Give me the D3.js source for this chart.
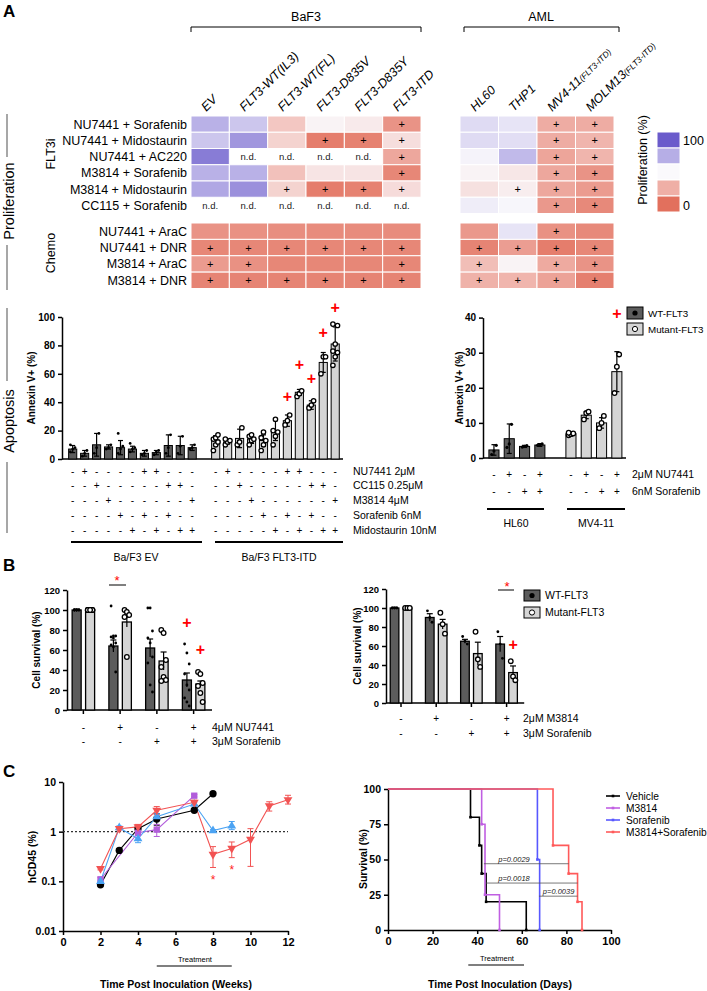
<!DOCTYPE html>
<html><head><meta charset="utf-8">
<script src="https://cdn.jsdelivr.net/npm/d3@7"></script>
<style>body{margin:0;background:#fff}svg{display:block}text{font-family:"Liberation Sans",Arial,Helvetica,sans-serif}</style>
</head><body><svg id="c" width="707" height="991"></svg>
<script>
// ---------------- DATA ----------------
const baf3Cols = ["EV","FLT3-WT(IL3)","FLT3-WT(FL)","FLT3-D835V","FLT3-D835Y","FLT3-ITD"];
const amlCols = ["HL60","THP1","MV4-11","MOLM13"];
const amlSub = ["","","(FLT3-ITD)","(FLT3-ITD)"];
const flt3iRows = ["NU7441 + Sorafenib","NU7441 + Midostaurin","NU7441 + AC220","M3814 + Sorafenib","M3814 + Midostaurin","CC115 + Sorafenib"];
const chemoRows = ["NU7441 + AraC","NU7441 + DNR","M3814 + AraC","M3814 + DNR"];
// proliferation (%) ; null = n.d.
const baf3Flt3iVals = [[74,67,33,48,45,14],[67,82,37,5,7,41],[90,null,null,null,null,22],[74,74,31,43,43,9],[77,84,37,5,7,40],[null,null,null,null,null,null]];
const baf3Flt3iPlus = [[0,0,0,0,0,1],[0,0,0,1,1,1],[0,0,0,0,0,1],[0,0,0,0,0,1],[0,0,1,1,1,1],[0,0,0,0,0,0]];
const amlFlt3iVals = [[60,57,24,24],[60,59,24,27],[52,71,21,27],[48,44,22,14],[42,46,22,17],[54,51,16,10]];
const amlFlt3iPlus = [[0,0,1,1],[0,0,1,1],[0,0,1,1],[0,0,1,1],[0,1,1,1],[0,0,1,1]];
const baf3ChemoVals = [[14,13,12,11,11,11],[9,9,9,9,9,9],[17,13,9,9,9,9],[8,8,8,8,8,8]];
const baf3ChemoPlus = [[0,0,0,0,0,0],[1,1,1,1,1,1],[1,1,0,0,0,1],[1,1,1,1,1,1]];
const amlChemoVals = [[16,57,13,10],[8,18,5,9],[30,48,23,14],[26,27,20,6]];
const amlChemoPlus = [[0,0,1,0],[1,1,1,1],[1,0,1,1],[1,1,1,1]];
const legendVals = [100,75,50,25,0];

// Apoptosis (Ba/F3)
const apoConds = ["NU7441 2\u03bcM","CC115 0.25\u03bcM","M3814 4\u03bcM","Sorafenib 6nM","Midostaurin 10nM"];
const apoCondMatrix = [[0,1,0,0,0,0,1,1,0,0,0],[0,0,1,0,0,0,0,0,1,1,0],[0,0,0,1,0,0,0,0,0,0,1],[0,0,0,0,1,0,1,0,1,0,0],[0,0,0,0,0,1,0,1,0,1,1]];
const apoEVMeans = [7,4,10,8.5,8,7,4,4.5,9.5,9.5,8];
const apoEVSd = [2.5,2,8,1.5,5,2,2,1.5,7.5,6.5,2];
const apoEVPts = [[5,7,8,10],[2,4,6],[4,8,18],[7,8,10],[4,7,9,18],[5,7,8,11],[3,4,6],[3,5,6],[4,8,17],[4,9,16],[7,8,10]];
const apoITDMeans = [13,12,14.5,14,13,20,27,47,38,68,81];
const apoITDSd = [3.5,1.5,6.5,3,4,7,4,2,3,7,12];
const apoITDPts = [[6,10,12,14,15,17],[10,12,13,14],[10,12,22],[10,13,14,16,17],[6,10,13,15,19],[10,16,19,20,28],[24,27,31],[44,46,48],[36,38,41],[60,72,72],[66,72,75,76,81,94,95]];
const apoITDSig = [null,null,null,null,null,null,44,66,56,89,106];

// Apoptosis (AML)
const amlApoConds = ["2\u03bcM NU7441","6nM Sorafenib"];
const amlApoCondMatrix = [[0,1,0,1],[0,0,1,1]];
const hl60Means = [2.3,5.5,3.3,3.7];
const hl60Sd = [1.5,4.2,0.3,0.4];
const hl60Pts = [[1,2,3.6],[3,4,9.6],[3.1,3.3,3.5],[3.6,3.8,4]];
const mv4Means = [6.9,12.2,10,24.6];
const mv4Sd = [0.4,1,1.5,5.7];
const mv4Pts = [[6.5,6.8,7,7.2],[11,12.8,13.2],[8.5,10,12],[18.5,26,29.5]];
const mv4Sig = [null,null,null,41];

// Panel B
const bLeftConds = ["4\u03bcM NU7441","3\u03bcM Sorafenib"];
const bRightConds = ["2\u03bcM M3814","3\u03bcM Sorafenib"];
const bCondMatrix = [[0,1,0,1],[0,0,1,1]];
const bLWTMeans = [100,64,62,30], bLWTSem = [0.8,6,9,7];
const bLMutMeans = [100,88,49,26], bLMutSem = [0.8,5,9,3];
const bLWTPts = [[100,100,100,100,100,100,100,100],[104,74,74,73,72,67,65,63,38],[102,102,79,72,67,53,47,25,18],[66,57,46,36,25,20,12,8,4]];
const bLMutPts = [[100,100,100,100,100,100,100,100],[100,98,95,93,53],[80,77,50,43,33,30,29],[38,36,27,24,17,8]];
const bLMutSig = [null,null,null,60], bLWTSig = [null,null,null,87];
const bRWTMeans = [100,90,65,62], bRWTSem = [0.8,4,2,8];
const bRMutMeans = [100,83,52,32], bRMutSem = [0.8,5,12,7];
const bRWTPts = [[100,100,100],[97,90,85],[70,65,62],[75,62,47]];
const bRMutPts = [[100,100,100],[95,83,73],[75,46,38],[44,28,24]];
const bRMutSig = [null,null,null,61];

// Panel C left (hCD45 %)
const vehWeeks=[2,3,4,5,7,8], vehVals=[0.085,0.42,1.15,1.8,2.7,5.8], vehLo=[0.08,0.4,1.05,1.35,2.55,5.6], vehHi=[0.09,0.45,1.3,2.3,2.9,6.0];
const m38Weeks=[2,4,5,7], m38Vals=[0.11,0.95,1.1,5.3], m38Lo=[0.1,0.85,0.8,5.0], m38Hi=[0.12,1.05,1.4,5.6];
const sorWeeks=[2,3,4,5,7,8,9], sorVals=[0.1,1.2,0.72,2.0,3.6,1.05,1.3], sorLo=[0.095,1.1,0.6,1.7,3.3,1.0,1.1], sorHi=[0.105,1.3,0.85,2.3,3.9,1.1,1.6];
const comWeeks=[2,3,4,5,7,8,9,10,11,12], comVals=[0.18,1.15,1.25,2.7,3.9,0.35,0.46,0.7,3.3,4.4], comLo=[0.17,1.08,1.1,2.2,3.5,0.19,0.3,0.2,2.6,3.6], comHi=[0.19,1.25,1.4,3.2,4.3,0.5,0.62,1.15,4.0,5.4];
const cLeftStarWeeks=[8,9], cLeftStarVals=[0.112,0.18];
const treatmentWeeks=[5,9];

// Panel C right (survival)
const survNames=["Vehicle","M3814","Sorafenib","M3814+Sorafenib"];
const vehSurv=[[0,100],[37,80],[41,60],[42,40],[44,20],[62,0]];
const m38Surv=[[0,100],[42,75],[43.5,25],[50,0]];
const sorSurv=[[0,100],[67,50],[68,0]];
const comSurv=[[0,100],[74,60],[81,40],[85,20],[87,0]];
const pLabels=["p=0.0029","p=0.0018","p=0.0039"];
const pFrom=[43,44,67.7], pTo=[81,85,85], pLevel=[47,33.3,24], pTextDay=[56.5,56.5,76.5];
const treatmentDays=[36,61];

// ---------------- DRAW ----------------
const F = '"Liberation Sans", Arial, Helvetica, sans-serif';
const svg = d3.select("#c");
function txt(g,x,y,s,o={}){const t=g.append("text").attr("x",x).attr("y",y).text(s).attr("font-size",o.size||10).attr("text-anchor",o.anchor||"start").attr("font-weight",o.weight||"normal").attr("fill",o.fill||"#000").attr("font-family",F);if(o.style)t.attr("font-style",o.style);if(o.rotate!=null)t.attr("transform",`rotate(${o.rotate},${x},${y})`);return t;}
function line(g,x1,y1,x2,y2,c="#000",w=1.4,dash){const l=g.append("line").attr("x1",x1).attr("y1",y1).attr("x2",x2).attr("y2",y2).attr("stroke",c).attr("stroke-width",w);if(dash)l.attr("stroke-dasharray",dash);return l;}
function styleAxis(g,size=10){g.selectAll("path,line").attr("stroke","#000").attr("stroke-width",1.5);g.selectAll("text").attr("font-size",size).attr("font-weight","bold").attr("font-family",F).attr("fill","#000");}

// panel letters
txt(svg,3,17,"A",{size:17,weight:"bold"});
txt(svg,3,571,"B",{size:17,weight:"bold"});
txt(svg,3,777,"C",{size:17,weight:"bold"});

// side labels
const gray="#8a8a8a";
line(svg,7,114,7,157,gray,1.5); line(svg,7,245,7,290,gray,1.5);
txt(svg,14,201,"Proliferation",{size:14.5,anchor:"middle",rotate:-90});
line(svg,7,308,7,381,gray,1.5); line(svg,7,462,7,533,gray,1.5);
txt(svg,14,421,"Apoptosis",{size:14.5,anchor:"middle",rotate:-90});

// ---- Heatmap ----
const color = d3.scaleLinear().domain([0,25,50,75,100]).range(["#e2705d","#efafa6","#faf9fc","#b6aee6","#6a5bcb"]);
const xB = d3.scaleBand().domain(baf3Cols).range([191,421]);
const xA = d3.scaleBand().domain(amlCols).range([460,614]);
const yF = d3.scaleBand().domain(flt3iRows).range([116,213.5]);
const yC = d3.scaleBand().domain(chemoRows).range([223,288.5]);
const hm = svg.append("g");
function drawBlock(xs, cols, ys, rows, vals, plus){
  rows.forEach((r,i)=>cols.forEach((c,j)=>{
    const v=vals[i][j], x=xs(c), y=ys(r);
    if(v===null){txt(hm,x+xs.bandwidth()/2,y+ys.bandwidth()/2+3.5,"n.d.",{size:9.5,anchor:"middle",fill:"#222"});return;}
    hm.append("rect").attr("x",x).attr("y",y).attr("width",xs.bandwidth()).attr("height",ys.bandwidth()).attr("fill",color(v)).attr("stroke","#fff").attr("stroke-width",1);
    if(plus[i][j]) txt(hm,x+xs.bandwidth()/2,y+ys.bandwidth()/2+4,"+",{size:11,anchor:"middle"});
  }));
}
drawBlock(xB,baf3Cols,yF,flt3iRows,baf3Flt3iVals,baf3Flt3iPlus);
drawBlock(xA,amlCols,yF,flt3iRows,amlFlt3iVals,amlFlt3iPlus);
drawBlock(xB,baf3Cols,yC,chemoRows,baf3ChemoVals,baf3ChemoPlus);
drawBlock(xA,amlCols,yC,chemoRows,amlChemoVals,amlChemoPlus);
flt3iRows.forEach(r=>txt(hm,187,yF(r)+yF.bandwidth()/2+4.5,r,{size:12.5,anchor:"end"}));
chemoRows.forEach(r=>txt(hm,187,yC(r)+yC.bandwidth()/2+4.5,r,{size:12.5,anchor:"end"}));
txt(hm,55,154,"FLT3i",{size:12.5,anchor:"middle",rotate:-90});
txt(hm,55,253,"Chemo",{size:12.5,anchor:"middle",rotate:-90});
// column headers
baf3Cols.forEach(c=>txt(hm,xB(c)+xB.bandwidth()/2-4,112,c,{size:12.5,style:"italic",rotate:-45}));
amlCols.forEach((c,i)=>{const t=txt(hm,xA(c)+xA.bandwidth()/2-4,112,c,{size:12.5,style:"italic",rotate:-45});if(amlSub[i])t.append("tspan").attr("font-size",8.5).text(amlSub[i]);});
// brackets
txt(hm,306,21,"BaF3",{size:12.5,anchor:"middle"});
hm.append("path").attr("d","M191,32V27H421V32").attr("fill","none").attr("stroke","#000").attr("stroke-width",1);
txt(hm,541,21,"AML",{size:12.5,anchor:"middle"});
hm.append("path").attr("d","M464,32V27H619V32").attr("fill","none").attr("stroke","#000").attr("stroke-width",1);
// legend
const yL = d3.scaleBand().domain(legendVals).range([132,212]);
legendVals.forEach(v=>hm.append("rect").attr("x",657).attr("y",yL(v)).attr("width",23).attr("height",yL.bandwidth()).attr("fill",color(v)).attr("stroke","#fff"));
txt(hm,683,145,"100",{size:12.5});
txt(hm,683,210,"0",{size:12.5});
txt(hm,647,160,"Proliferation (%)",{size:12.5,anchor:"middle",rotate:-90});

// ---- generic helpers for bar charts ----
function errBar(g,x,y0,y1,cap,c="#000"){line(g,x,y0,x,y1,c,1.2);line(g,x-cap,y1,x+cap,y1,c,1.2);}
function dots(g,x,ys,yScale,open,r){ys.forEach((v,k)=>{const dx=((k%3)-1)*2.3;const c=g.append("circle").attr("cx",x+dx).attr("cy",yScale(v)).attr("r",r);if(open)c.attr("fill","#fff").attr("stroke","#000").attr("stroke-width",1.3);else c.attr("fill","#000");});}
function sigPlus(g,x,y){txt(g,x,y+5,"+",{size:16,weight:"bold",anchor:"middle",fill:"#ff0000"});}
const dark="#5c5c5c", light="#d5d5d5";

// ---- Apoptosis left ----
const ga = svg.append("g");
const yA = d3.scaleLinear().domain([0,100]).range([459,317]);
const idx = d3.range(11);
const xEV = d3.scaleBand().domain(idx).range([64.8,200.1]).padding(0.32);
const xITD = d3.scaleBand().domain(idx).range([207.8,343.1]).padding(0.32);
ga.append("g").attr("transform","translate(62,0)").call(d3.axisLeft(yA).tickValues([0,20,40,60,80,100]).tickSize(4).tickSizeOuter(0)).call(g=>styleAxis(g,10));
line(ga,62,459,343,459,"#000",1.5);
function barsSet(g,xs,means,sds,pts,fill,open,yS,r){
  means.forEach((m,i)=>{const cx=xs(i)+xs.bandwidth()/2;
    errBar(g,cx,yS(m),yS(m+sds[i]),2.5);
    g.append("rect").attr("x",xs(i)).attr("y",yS(m)).attr("width",xs.bandwidth()).attr("height",yS(0)-yS(m)).attr("fill",fill).attr("stroke","#000").attr("stroke-width",1);
    errBar(g,cx,yS(m),yS(Math.max(0,m-sds[i])),2.5);
    dots(g,cx,pts[i],yS,open,r);});
}
barsSet(ga,xEV,apoEVMeans,apoEVSd,apoEVPts,dark,false,yA,1.4);
barsSet(ga,xITD,apoITDMeans,apoITDSd,apoITDPts,light,true,yA,2.2);
apoITDSig.forEach((v,i)=>{if(v!==null)sigPlus(ga,xITD(i)+xITD.bandwidth()/2,yA(v));});
const condY=[471,485,500,515,530];
apoConds.forEach((c,r)=>{idx.forEach(i=>{const s=apoCondMatrix[r][i]?"+":"-";txt(ga,xEV(i)+xEV.bandwidth()/2,condY[r]+4,s,{size:10,anchor:"middle"});txt(ga,xITD(i)+xITD.bandwidth()/2,condY[r]+4,s,{size:10,anchor:"middle"});});txt(ga,353,condY[r]+4,c,{size:10.5});});
line(ga,71,542,202,542,"#000",2); line(ga,215,542,343,542,"#000",2);
txt(ga,136,561,"Ba/F3 EV",{size:10.5,anchor:"middle"});
txt(ga,279,561,"Ba/F3 FLT3-ITD",{size:10.5,anchor:"middle"});
txt(ga,35,388,"Annexin V+ (%)",{size:10,weight:"bold",anchor:"middle",rotate:-90});

// ---- Apoptosis right ----
const gr = svg.append("g");
const yR = d3.scaleLinear().domain([0,40]).range([458,317.6]);
const i4 = d3.range(4);
const xHL = d3.scaleBand().domain(i4).range([483.7,550.1]).padding(0.34);
const xMV = d3.scaleBand().domain(i4).range([560.7,627.1]).padding(0.34);
gr.append("g").attr("transform","translate(483,0)").call(d3.axisLeft(yR).tickValues([0,10,20,30,40]).tickSize(4).tickSizeOuter(0)).call(g=>styleAxis(g,10));
line(gr,483,458,626,458,"#000",1.5);
barsSet(gr,xHL,hl60Means,hl60Sd,hl60Pts,dark,false,yR,1.6);
barsSet(gr,xMV,mv4Means,mv4Sd,mv4Pts,light,true,yR,2.3);
mv4Sig.forEach((v,i)=>{if(v!==null)sigPlus(gr,xMV(i)+xMV.bandwidth()/2,yR(v));});
const condYR=[474,491];
amlApoConds.forEach((c,r)=>{i4.forEach(i=>{const s=amlApoCondMatrix[r][i]?"+":"-";txt(gr,xHL(i)+xHL.bandwidth()/2,condYR[r]+4,s,{size:10,anchor:"middle"});txt(gr,xMV(i)+xMV.bandwidth()/2,condYR[r]+4,s,{size:10,anchor:"middle"});});txt(gr,632,condYR[r]+4,c,{size:10.5});});
line(gr,487,509,544,509,"#000",2); line(gr,567,509,625,509,"#000",2);
txt(gr,516,527,"HL60",{size:10.5,anchor:"middle"});
txt(gr,596,527,"MV4-11",{size:10.5,anchor:"middle"});
txt(gr,463,388,"Annexin V+ (%)",{size:10,weight:"bold",anchor:"middle",rotate:-90});
function legend2(g,x,y1,y2,w,h,size){
  g.append("rect").attr("x",x).attr("y",y1).attr("width",w).attr("height",h).attr("fill",dark).attr("stroke","#000");
  g.append("circle").attr("cx",x+w/2).attr("cy",y1+h/2).attr("r",2.6).attr("fill","#000");
  g.append("rect").attr("x",x).attr("y",y2).attr("width",w).attr("height",h).attr("fill",light).attr("stroke","#000");
  g.append("circle").attr("cx",x+w/2).attr("cy",y2+h/2).attr("r",2.6).attr("fill","#fff").attr("stroke","#000");
  txt(g,x+w+5,y1+h/2+3.5,"WT-FLT3",{size:size});
  txt(g,x+w+5,y2+h/2+3.5,"Mutant-FLT3",{size:size});
}
legend2(gr,627,307,323,16,12,9.8);

// ---- Panel B ----
function bChart(g,x0,x1,yS,wtM,wtS,mutM,mutS,wtP,mutP,axisX){
  const i4=d3.range(4);
  const xg=d3.scaleBand().domain(i4).range([x0,x1]);
  const xs=d3.scaleBand().domain(["WT","Mut"]).range([0,xg.bandwidth()]).paddingInner(0.33).paddingOuter(0.53);
  g.append("g").attr("transform",`translate(${axisX},0)`).call(d3.axisLeft(yS).tickValues([0,20,40,60,80,100,120]).tickSize(4).tickSizeOuter(0)).call(a=>styleAxis(a,9.5));
  g.append("g").attr("transform",`translate(0,${yS(0)})`).call(d3.axisBottom(xg).tickSize(4).tickSizeOuter(0).tickFormat("")).call(a=>styleAxis(a)).call(a=>a.select(".domain").attr("d",`M${axisX},0H${x1}`));
  i4.forEach(i=>{
    [["WT",wtM,wtS,wtP,dark,false,1.4],["Mut",mutM,mutS,mutP,light,true,2.3]].forEach(([k,M,S,P,fill,open,r])=>{
      const bx=xg(i)+xs(k), cx=bx+xs.bandwidth()/2, m=M[i];
      g.append("rect").attr("x",bx).attr("y",yS(m)).attr("width",xs.bandwidth()).attr("height",yS(0)-yS(m)).attr("fill",fill).attr("stroke","#000").attr("stroke-width",1.3);
      errBar(g,cx,yS(m-S[i]),yS(m+S[i]),3);
      dots(g,cx,P[i],yS,open,r);
    });
  });
  return {xg,xs};
}
const gb = svg.append("g");
const yBL = d3.scaleLinear().domain([0,120]).range([710,590]);
const bl = bChart(gb,65,212,yBL,bLWTMeans,bLWTSem,bLMutMeans,bLMutSem,bLWTPts,bLMutPts,67);
bLWTSig.forEach((v,i)=>{if(v!==null)sigPlus(gb,bl.xg(i)+bl.xs("WT")+bl.xs.bandwidth()/2,yBL(v));});
bLMutSig.forEach((v,i)=>{if(v!==null)sigPlus(gb,bl.xg(i)+bl.xs("Mut")+bl.xs.bandwidth()/2,yBL(v));});
line(gb,109,585,126,585,"#000",1); txt(gb,117,585,"*",{size:13,anchor:"middle",fill:"#ff0000"});
[731,745].forEach((yy,r)=>{d3.range(4).forEach(i=>txt(gb,bl.xg(i)+bl.xg.bandwidth()/2,yy,bCondMatrix[r][i]?"+":"-",{size:10,anchor:"middle"}));txt(gb,212,yy,bLeftConds[r],{size:10.5});});
txt(gb,40,650,"Cell survival (%)",{size:10,weight:"bold",anchor:"middle",rotate:-90});

const yBR = d3.scaleLinear().domain([0,120]).range([703,589]);
const br = bChart(gb,383.4,524.2,yBR,bRWTMeans,bRWTSem,bRMutMeans,bRMutSem,bRWTPts,bRMutPts,386);
bRMutSig.forEach((v,i)=>{if(v!==null)sigPlus(gb,br.xg(i)+br.xs("Mut")+br.xs.bandwidth()/2,yBR(v));});
line(gb,498,590,514,590,"#000",1); txt(gb,507,591,"*",{size:13,anchor:"middle",fill:"#ff0000"});
[722,737].forEach((yy,r)=>{d3.range(4).forEach(i=>txt(gb,br.xg(i)+br.xg.bandwidth()/2,yy,bCondMatrix[r][i]?"+":"-",{size:10,anchor:"middle"}));txt(gb,523,yy,bRightConds[r],{size:10.5});});
txt(gb,361,646,"Cell survival (%)",{size:10,weight:"bold",anchor:"middle",rotate:-90});
legend2(gb,524,590,607,16,11,10.5);

// ---- Panel C left ----
const gc = svg.append("g");
const xW = d3.scaleLinear().domain([0,12]).range([63,288]);
const yW = d3.scaleLog().domain([0.01,10]).range([931,782]);
gc.append("g").attr("transform","translate(63,0)").call(d3.axisLeft(yW).tickValues([0.01,0.1,1,10]).tickFormat(d=>String(d)).tickSize(4).tickSizeOuter(0)).call(a=>styleAxis(a,10.5));
gc.append("g").attr("transform","translate(0,931)").call(d3.axisBottom(xW).tickValues(d3.range(0,13,2)).tickSize(4).tickSizeOuter(0)).call(a=>styleAxis(a,11));
line(gc,63,yW(1),288,yW(1),"#333",1.2,"2,2");
const cSeries=[
  {w:vehWeeks,v:vehVals,lo:vehLo,hi:vehHi,c:"#000",lc:"#000",sym:d3.symbolCircle,sz:42,rot:0},
  {w:m38Weeks,v:m38Vals,lo:m38Lo,hi:m38Hi,c:"#b25ddb",lc:"#b25ddb",sym:d3.symbolSquare,sz:40,rot:0},
  {w:sorWeeks,v:sorVals,lo:sorLo,hi:sorHi,c:"#4ba3f3",lc:"#4ba3f3",sym:d3.symbolTriangle,sz:34,rot:0},
  {w:comWeeks,v:comVals,lo:comLo,hi:comHi,c:"#f25353",lc:"#f25353",sym:d3.symbolTriangle,sz:34,rot:180}];
const ln=d3.line().x(d=>xW(d[0])).y(d=>yW(d[1]));
cSeries.forEach(s=>{
  const pts=s.w.map((w,i)=>[w,s.v[i]]);
  gc.append("path").attr("d",ln(pts)).attr("fill","none").attr("stroke",s.lc).attr("stroke-width",1.1);
  s.w.forEach((w,i)=>{const x=xW(w);line(gc,x,yW(s.lo[i]),x,yW(s.hi[i]),s.c,1);line(gc,x-3,yW(s.lo[i]),x+3,yW(s.lo[i]),s.c,1);line(gc,x-3,yW(s.hi[i]),x+3,yW(s.hi[i]),s.c,1);});
});
cSeries.forEach(s=>{s.w.forEach((w,i)=>gc.append("path").attr("d",d3.symbol(s.sym,s.sz)()).attr("fill",s.c).attr("transform",`translate(${xW(w)},${yW(s.v[i])}) rotate(${s.rot})`));});
cLeftStarWeeks.forEach((w,i)=>txt(gc,xW(w),yW(cLeftStarVals[i])+5,"*",{size:12,anchor:"middle",fill:"#ff2222"}));
line(gc,xW(treatmentWeeks[0]),966,xW(treatmentWeeks[1]),966,"#000",1.2);
txt(gc,195,962,"Treatment",{size:7.5,anchor:"middle"});
txt(gc,176,988,"Time Post Inoculation (Weeks)",{size:10.5,weight:"bold",anchor:"middle"});
txt(gc,36,857,"hCD45 (%)",{size:10.5,weight:"bold",anchor:"middle",rotate:-90});

// ---- Panel C right ----
const gs = svg.append("g");
const xD = d3.scaleLinear().domain([0,100]).range([388,611]);
const yS = d3.scaleLinear().domain([0,100]).range([930,789]);
gs.append("g").attr("transform","translate(388,0)").call(d3.axisLeft(yS).tickValues([0,25,50,75,100]).tickSize(4).tickSizeOuter(0)).call(a=>styleAxis(a,10.5));
gs.append("g").attr("transform","translate(0,930)").call(d3.axisBottom(xD).tickValues([0,20,40,60,80,100]).tickSize(4).tickSizeOuter(0)).call(a=>styleAxis(a,11));
const survCols=["#000","#c05fe2","#5858ff","#ff5a5a"];
const survData=[vehSurv,m38Surv,sorSurv,comSurv];
const sl=d3.line().x(d=>xD(d[0])).y(d=>yS(d[1])).curve(d3.curveStepAfter);
survData.forEach((d,k)=>{
  gs.append("path").attr("d",sl(d)).attr("fill","none").attr("stroke",survCols[k]).attr("stroke-width",1.6);
  d.slice(1).forEach(p=>gs.append("rect").attr("x",xD(p[0])-1.3).attr("y",yS(p[1])-1.3).attr("width",2.6).attr("height",2.6).attr("fill",survCols[k]));
});
pLabels.forEach((p,i)=>{line(gs,xD(pFrom[i]),yS(pLevel[i]),xD(pTo[i]),yS(pLevel[i]),"#555",0.8);txt(gs,xD(pTextDay[i]),yS(pLevel[i])-2,p,{size:7.5,anchor:"middle",style:"italic",fill:"#222"});});
line(gs,xD(treatmentDays[0]),965,xD(treatmentDays[1]),965,"#000",1.2);
txt(gs,497,961,"Treatment",{size:7.5,anchor:"middle"});
txt(gs,500,988,"Time Post Inoculation (Days)",{size:10.5,weight:"bold",anchor:"middle"});
txt(gs,367,859,"Survival (%)",{size:10.5,weight:"bold",anchor:"middle",rotate:-90});
const legY=[796,808,820,832];
survNames.forEach((n,k)=>{line(gs,606,legY[k],620,legY[k],survCols[k],1.6);gs.append("rect").attr("x",611.7).attr("y",legY[k]-1.3).attr("width",2.6).attr("height",2.6).attr("fill",survCols[k]);txt(gs,626,legY[k]+4,n,{size:10.2});});
</script></body></html>
